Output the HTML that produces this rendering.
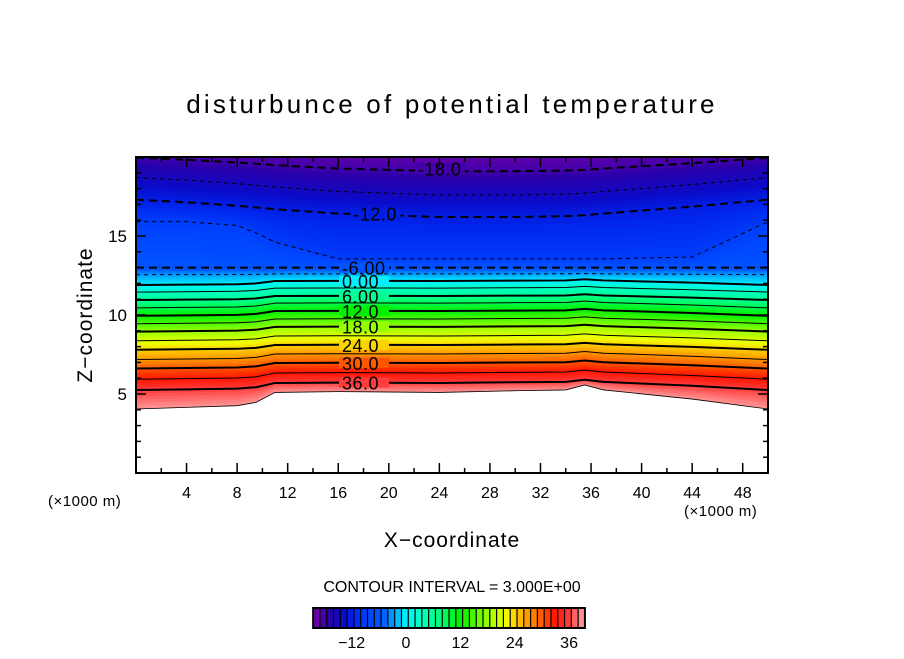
<!DOCTYPE html>
<html><head><meta charset="utf-8"><style>
body{margin:0;background:#fff;}
svg text{font-family:"Liberation Sans",sans-serif;fill:#000;}
</style></head><body>
<svg id="chart" width="904" height="654" viewBox="0 0 904 654">
<text x="452" y="113" text-anchor="middle" font-size="26" letter-spacing="3.2">disturbunce of potential temperature</text>
<g id="plot"></g>
<g id="axes"></g>
<text x="48" y="506" font-size="15" letter-spacing="0.5">(×1000 m)</text>
<text x="684" y="516" font-size="15" letter-spacing="0.5">(×1000 m)</text>
<text x="452" y="547" text-anchor="middle" font-size="21" letter-spacing="1">X−coordinate</text>
<text transform="translate(92,315) rotate(-90)" text-anchor="middle" font-size="21" letter-spacing="1">Z−coordinate</text>
<text x="452" y="592" text-anchor="middle" font-size="16">CONTOUR INTERVAL = 3.000E+00</text>
<g id="cbar"></g>
</svg>
<script>
// data
const xs = [0, 4, 8, 9.5, 11, 16, 24, 30, 34, 35.5, 37, 44, 50];
const shapeLow = [-1, -0.9, -0.8, -0.6, 0, 0.05, 0, 0.1, 0.15, 0.45, 0.15, -0.4, -1];
const shapeUp = [1, 0.85, 0.65, 0.55, 0.45, 0.2, 0, 0, 0.05, 0.1, 0.2, 0.6, 1];
const shapeSharp = [1, 1, 0.9, 0.7, 0.45, 0, 0, 0, 0, 0, 0, 0.05, 1];
const levels = [-18, -15, -12, -9, -6, -3, 0, 3, 6, 9, 12, 15, 18, 21, 24, 27, 30, 33, 36, 39];
const centerZ = [19.1, 17.6, 16.2, 13.55, 13.0, 12.6, 12.15, 11.7, 11.2, 10.75, 10.25, 9.75, 9.25, 8.67, 8.1, 7.53, 6.96, 6.33, 5.7, 5.1];
const amps = [0.85, 1.1, 1.1, 2.35, 0, 0.05, 0.25, 0.25, 0.25, 0.3, 0.3, 0.3, 0.3, 0.3, 0.3, 0.35, 0.35, 0.4, 0.45, 1.05];
const shapeIds = ['up', 'up', 'up', 'sharp', 'low', 'low', 'low', 'low', 'low', 'low', 'low', 'low', 'low', 'low', 'low', 'low', 'low', 'low', 'low', 'low'];
const labeledLevels = ['-18.0', '-12.0', '-6.00', '0.00', '6.00', '12.0', '18.0', '24.0', '30.0', '36.0'];
const xTicks = [4, 8, 12, 16, 20, 24, 28, 32, 36, 40, 44, 48];
const yTicks = [5, 10, 15];
const cbTicks = [-12, 0, 12, 24, 36];

const NS = 'http://www.w3.org/2000/svg';
const X0 = 136, X1 = 768, Y0 = 473, Y1 = 157;
const sx = v => X0 + v / 50 * (X1 - X0);
const sy = v => Y0 - v / 20 * (Y0 - Y1);
const shapes = {low: shapeLow, up: shapeUp, sharp: shapeSharp};
function mk(tag, attrs, parent) { const e = document.createElementNS(NS, tag); for (const k in attrs) e.setAttribute(k, attrs[k]); parent.appendChild(e); return e; }
function color(v) {
  const st = [[-21,[130,0,170]],[-19,[90,0,170]],[-17,[40,0,170]],[-14,[10,10,200]],[-11,[0,40,240]],[-8,[0,70,255]],[-5,[0,90,255]],[-2.5,[0,170,255]],[0,[0,240,255]],[3,[0,255,200]],[7,[0,255,130]],[12,[0,240,0]],[18,[150,255,0]],[22,[240,255,0]],[25,[255,190,0]],[29,[255,110,0]],[33,[255,20,0]],[36,[255,60,60]],[39,[255,150,150]]];
  if (v <= st[0][0]) return 'rgb(' + st[0][1] + ')';
  for (let i = 1; i < st.length; i++) if (v <= st[i][0]) {
    const t = (v - st[i-1][0]) / (st[i][0] - st[i-1][0]);
    const c = st[i-1][1].map((a, j) => Math.round(a + (st[i][1][j] - a) * t));
    return 'rgb(' + c + ')';
  }
  return 'rgb(' + st[st.length-1][1] + ')';
}
function levelZ(i) {
  const sh = shapes[shapeIds[i]];
  return xs.map((x, k) => centerZ[i] + amps[i] * sh[k]);
}
const toPts = zs => xs.map((x, k) => [sx(x), sy(Math.min(20, zs[k]))]);
const plot = document.getElementById('plot');
mk('rect', {x: X0, y: Y1, width: X1 - X0, height: Y0 - Y1, fill: '#fff'}, plot);
// smooth fills: sub-contours between adjacent levels, descending
const N = 6;
function fillAbove(zs, col, name) {
  const pts = toPts(zs);
  const d = 'M' + pts.map(p => p.join(',')).join('L') + `L${X1},${Y1}L${X0},${Y1}Z`;
  const p = mk('path', {d: d, fill: col}, plot);
  
  
}
fillAbove(levelZ(levels.length - 1), color(levels[levels.length - 1] - 0.25), 'band-bottom');
for (let i = levels.length - 1; i > 0; i--) {
  const a = levelZ(i), b = levelZ(i - 1);
  for (let s = 1; s <= N; s++) {
    const t = s / N;
    const zs = a.map((z, k) => z + (b[k] - z) * t);
    const v = levels[i] + (levels[i - 1] - levels[i]) * t;
    fillAbove(zs, color(v - 0.25), 'band-' + levels[i]);
  }
}
// top band above -18 (gradient to -21)
{
  const a = levelZ(0);
  for (let s = 1; s <= N; s++) {
    const t = s / N;
    const zs = a.map(z => z + 1.6 * t);
    fillAbove(zs, color(-18 - 3 * t), 'band-top');
  }
}
// lines
for (let i = 0; i < levels.length; i++) {
  const pts = toPts(levelZ(i));
  const major = levels[i] % 6 === 0;
  const attrs = {d: 'M' + pts.map(p => p.join(',')).join('L'), fill: 'none', stroke: '#000', 'stroke-width': major ? 2 : 1};
  if (levels[i] < 0) attrs['stroke-dasharray'] = major ? '8,5' : '4,4';
  if (levels[i] === 39) attrs['stroke-width'] = 0.8;
  const l = mk('path', attrs, plot);
  
  
}
// labels
labeledLevels.forEach(s => {
  const v = parseFloat(s);
  const i = levels.indexOf(v);
  const lx = v === -18 ? 22.3 : (v === -12 ? 17.2 : 16.3);
  const k = xs.findIndex(x => x >= 16);
  const z = levelZ(i)[k];
  const bg = mk('rect', {x: sx(lx) - 3, y: sy(z) - 5, width: 50, height: 10, fill: color(v)}, plot);
  
  
  const t = mk('text', {x: sx(lx), y: sy(z) + 7, 'font-size': 18, 'letter-spacing': 0.5}, plot);
  t.textContent = s;
  
  
});
// axes
const ax = document.getElementById('axes');
mk('rect', {x: X0, y: Y1, width: X1 - X0, height: Y0 - Y1, fill: 'none', stroke: '#000', 'stroke-width': 2}, ax);
for (let v = 2; v < 50; v += 2) {
  const len = v % 4 === 0 ? 10 : 5;
  mk('line', {x1: sx(v), x2: sx(v), y1: Y0, y2: Y0 - len, stroke: '#000', 'stroke-width': 1.5}, ax);
  mk('line', {x1: sx(v), x2: sx(v), y1: Y1, y2: Y1 + len, stroke: '#000', 'stroke-width': 1.5}, ax);
}
for (let v = 1; v < 20; v++) {
  const len = v % 5 === 0 ? 10 : 5;
  mk('line', {x1: X0, x2: X0 + len, y1: sy(v), y2: sy(v), stroke: '#000', 'stroke-width': 1.5}, ax);
  mk('line', {x1: X1, x2: X1 - len, y1: sy(v), y2: sy(v), stroke: '#000', 'stroke-width': 1.5}, ax);
}
xTicks.forEach(v => {
  const t = mk('text', {x: sx(v), y: 498, 'text-anchor': 'middle', 'font-size': 16}, ax);
  t.textContent = v;
  
  
});
yTicks.forEach(v => {
  const t = mk('text', {x: 127, y: sy(v) + 6, 'text-anchor': 'end', 'font-size': 17}, ax);
  t.textContent = v;
  
  
});
// colorbar
const cb = document.getElementById('cbar');
const cx = v => 406 + v * 4.53;
for (let v = -20.5; v < 39; v += 1.5) {
  const r = mk('rect', {x: cx(v), y: 608, width: 4.53 * 1.5 + 0.3, height: 20, fill: color(v + 0.75)}, cb);
  
  
  mk('line', {x1: cx(v), x2: cx(v), y1: 608, y2: 628, stroke: '#000', 'stroke-width': 1.2}, cb);
}
mk('rect', {x: cx(-20.5), y: 608, width: cx(39.5) - cx(-20.5), height: 20, fill: 'none', stroke: '#000', 'stroke-width': 2}, cb);
cbTicks.forEach(v => {
  const t = mk('text', {x: cx(v), y: 648, 'text-anchor': 'middle', 'font-size': 16}, cb);
  t.textContent = v < 0 ? '−' + (-v) : v;
  
  
});
</script>
</body></html>
